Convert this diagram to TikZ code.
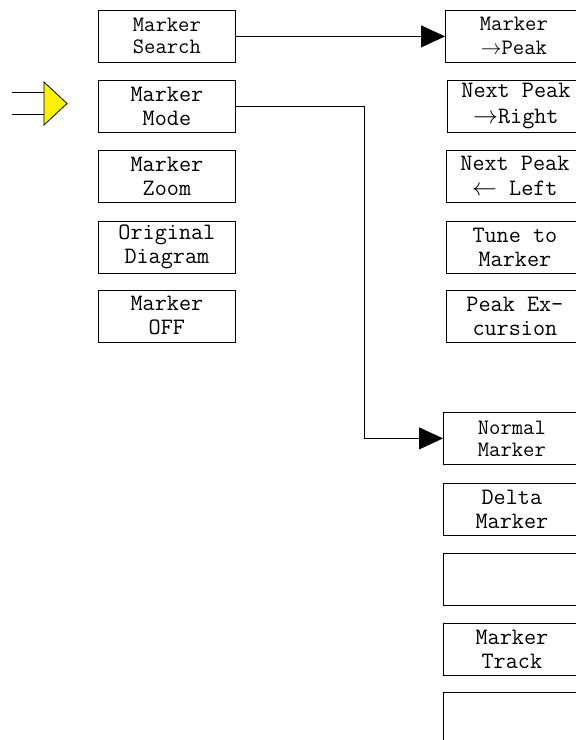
\documentclass[tikz,border=0pt]{standalone}
\usepackage{fontspec}
\usetikzlibrary{arrows.meta}
\tikzset{
  menubox/.style={draw, line width=0.8pt, rectangle, anchor=north west, inner sep=0pt,
    minimum width=137pt, minimum height=52pt, align=center,
    font=\ttfamily\fontsize{23.5pt}{24pt}\selectfont},
  smalltext/.style={font=\ttfamily\fontsize{22pt}{22pt}\selectfont},
  conn/.style={line width=0.8pt, -{Triangle[length=24pt,width=22pt]}},
}
\begin{document}
\begin{tikzpicture}[x=1pt,y=-1pt]
\useasboundingbox (0,0) rectangle (576,740);
% left column
\node[menubox,smalltext] (search) at (98,10) {Marker\\Search};
\node[menubox] (mode) at (98,80) {Marker\\Mode};
\node[menubox] (zoom) at (98,150) {Marker\\Zoom};
\node[menubox] (orig) at (98,220.5) {Original\\Diagram};
\node[menubox] (off) at (98,289.5) {Marker\\OFF};
% right upper column
\node[menubox,smalltext] (mpeak) at (445,9.5) {Marker\\[1.5pt]$\rightarrow$Peak};
\node[menubox] (npright) at (447,79.5) {Next Peak\\[1.5pt]$\rightarrow$Right};
\node[menubox] (npleft) at (446,149.5) {Next Peak\\[1.5pt]$\leftarrow$ Left};
\node[menubox] (tune) at (446,220.5) {Tune to\\Marker};
\node[menubox] (excur) at (446,289.5) {Peak Ex-\\cursion};
% right lower column
\node[menubox,smalltext] (normal) at (443,412) {Normal\\Marker};
\node[menubox] (delta) at (443,482.5) {Delta\\Marker};
\node[menubox] (empty1) at (443,552.5) {};
\node[menubox] (track) at (443,622.5) {Marker\\Track};
\node[menubox] (empty2) at (443,691.5) {};
% connectors
\draw[conn] (search.east) -- (search.east -| mpeak.west);
\coordinate (bend) at (364,0);
\draw[conn] (mode.east) -- (mode.east -| bend) |- (normal.west);
% yellow pointer
\coordinate (tipL1) at (12,92);
\coordinate (tipL2) at (12,114);
\draw[line width=0.8pt] (tipL1) -- (44,92);
\draw[line width=0.8pt] (tipL2) -- (44,114);
\draw[line width=0.8pt, fill=yellow] (44,82) -- (67,103.5) -- (44,125) -- cycle;
\end{tikzpicture}
\end{document}
